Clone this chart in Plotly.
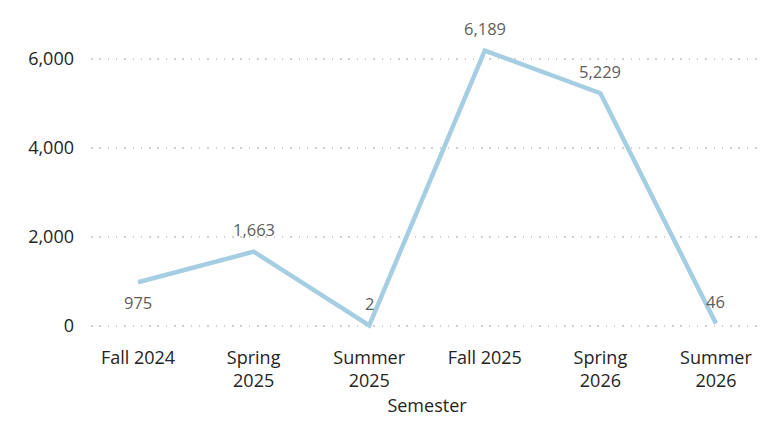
import plotly.graph_objects as go

# Semester enrollment values
semesters = ["Fall 2024", "Spring 2025", "Summer 2025", "Fall 2025", "Spring 2026", "Summer 2026"]
tick_labels = ["Fall 2024", "Spring<br>2025", "Summer<br>2025", "Fall 2025", "Spring<br>2026", "Summer<br>2026"]
values = [975, 1663, 2, 6189, 5229, 46]
label_above = [False, True, True, True, True, True]

font_family = "Open Sans, Noto Sans, sans-serif"

fig = go.Figure()
fig.add_trace(go.Scatter(
    x=semesters,
    y=values,
    mode="lines",
    line=dict(color="#A6CEE3", width=4.5),
    cliponaxis=False,
    hoverinfo="x+y",
))

# data labels, offset from the line like the original
for sem, val, above in zip(semesters, values, label_above):
    fig.add_annotation(
        x=sem, y=val,
        text=f"{val:,}",
        showarrow=False,
        yshift=22 if above else -20,
        font=dict(family=font_family, size=16.5, color="#605E5C"),
    )

# page body has an 8px margin, so offsets are shifted by 8
fig.update_layout(
    width=776,
    height=425,
    margin=dict(l=83, r=21, t=12, b=103),
    paper_bgcolor="white",
    plot_bgcolor="white",
    showlegend=False,
    font=dict(family=font_family, color="#252423"),
)

fig.update_xaxes(
    tickmode="array",
    tickvals=semesters,
    ticktext=tick_labels,
    range=[-0.407, 5.407],
    showgrid=False,
    showline=False,
    zeroline=False,
    tickfont=dict(size=18, color="#252423"),
    ticks="",
    ticklabelstandoff=15,
    title=dict(text="Semester", font=dict(size=18, color="#252423"), standoff=7),
)

fig.update_yaxes(
    range=[-100, 6876],
    tickvals=[0, 2000, 4000, 6000],
    tickformat=",",
    showgrid=True,
    gridcolor="#CFCFCF",
    griddash="1.5px,6.8px",
    gridwidth=1.5,
    zeroline=False,
    showline=False,
    ticks="",
    ticklabelstandoff=16,
    tickfont=dict(size=18, color="#252423"),
)

fig.write_html("out.html")
